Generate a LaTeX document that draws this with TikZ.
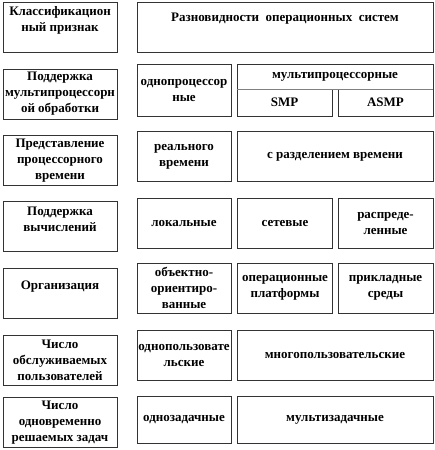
\documentclass[tikz,border=0pt]{standalone}
\usepackage{fontspec}
\setmainfont{Liberation Serif}
\usetikzlibrary{positioning}

\begin{document}
\begin{tikzpicture}[x=1pt, y=-1pt]
    \tikzstyle{crit} = [rectangle, draw=black!80, line width=0.6pt, minimum width=114pt, minimum height=50pt, inner sep=1pt, align=center, font=\bfseries\fontsize{13}{16}\selectfont]
    \tikzstyle{kind} = [crit, minimum width=94pt]
    \tikzstyle{wide} = [crit, minimum width=196pt]
    \tikzstyle{third} = [crit, minimum width=95pt]
    \tikzstyle{caption} = [inner sep=0pt, align=center, font=\bfseries\fontsize{13}{16}\selectfont]

    \useasboundingbox (0,0) rectangle (435,450);

    % left column
    \node[crit] (cls) at (60,27.5) {};
    \node[caption] (clstext) at ([yshift=7pt]cls.center) {Классификацион\\ный признак};
    \node[crit] (multi) at (60,94) {Поддержка\\мультипроцессорн\\ой обработки};
    \node[crit] (time) at (60,160.5) {Представление\\процессорного\\времени};
    \node[crit] (calc) at (60,226.5) {};
    \node[caption] (calctext) at ([yshift=7pt]calc.center) {Поддержка\\вычислений};
    \node[crit] (org) at (60,293.5) {};
    \node[caption] (orgtext) at ([yshift=7pt]org.center) {Организация};
    \node[crit] (users) at (60,360) {Число\\обслуживаемых\\пользователей};
    \node[crit] (tasks) at (60,422.5) {Число\\одновременно\\решаемых задач};

    % right column
    \node[crit, minimum width=296pt] (os) at (285,27.5) {};
    \node[caption] (ostext) at ([yshift=9pt]os.center) {Разновидности\ \ операционных\ \ систем};

    \node[kind, minimum height=52pt] (uni) at (184,90) {однопроцессор\\ные};
    \node[wide, minimum height=25pt] (mp) at (335,76.5) {мультипроцессорные};
    \node[third, minimum height=27pt] (smp) at (284.5,102.5) {SMP};
    \node[third, minimum height=27pt] (asmp) at (385.5,102.5) {ASMP};
    \draw[gray, line width=1.2pt] (mp.south west) -- (mp.south east);

    \node[kind] (real) at (184,156.5) {реального\\времени};
    \node[wide] (share) at (335,156.5) {с разделением времени};

    \node[kind] (local) at (184,223) {локальные};
    \node[third] (net) at (285,223) {сетевые};
    \node[third] (distr) at (385.5,223) {распреде-\\ленные};

    \node[kind] (oop) at (184,288) {объектно-\\ориентиро-\\ванные};
    \node[third] (plat) at (285,288) {операционные\\платформы};
    \node[third] (env) at (385.5,288) {прикладные\\среды};

    \node[kind] (single) at (184,355) {однопользовате\\льские};
    \node[wide] (many) at (335,355) {многопользовательские};

    \node[kind, minimum height=47pt] (onetask) at (184,419.5) {однозадачные};
    \node[wide, minimum height=47pt] (multitask) at (335,419.5) {мультизадачные};
\end{tikzpicture}
\end{document}
